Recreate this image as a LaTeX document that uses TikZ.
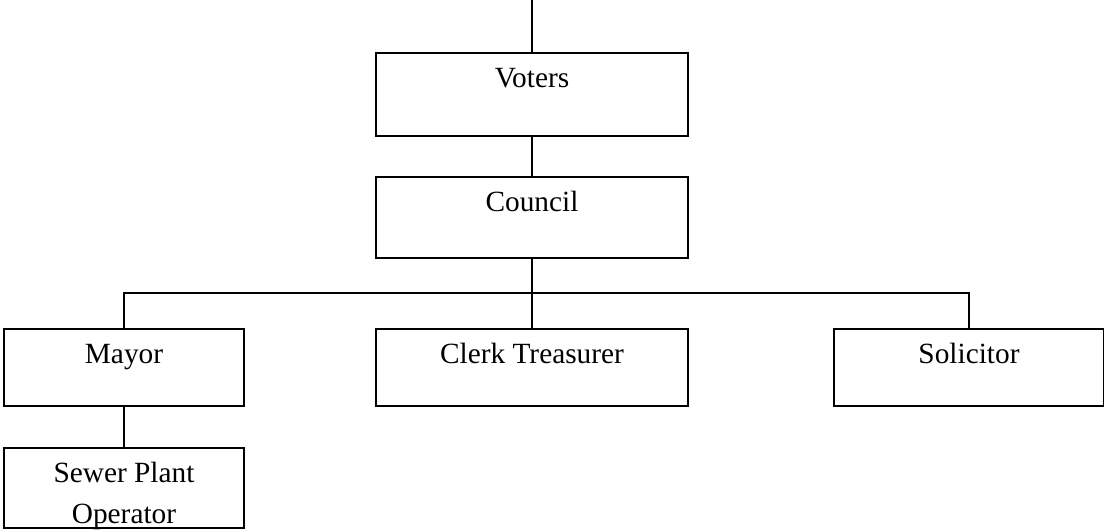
\documentclass[tikz,border=0pt]{standalone}
\usepackage{fontspec}
\setmainfont{Liberation Serif}
\begin{document}
\begin{tikzpicture}[x=0.75pt,y=-0.75pt,
  box/.style={draw, line width=1.5pt, inner sep=0pt, anchor=north west},
  lbl/.style={font=\fontsize{22}{30.75}\selectfont, anchor=base, align=center, inner sep=0pt, yshift=-26.25pt},
  conn/.style={line width=1.5pt}]
\useasboundingbox (0,0) rectangle (1104,529);
\node[box, minimum width=234pt, minimum height=62.25pt, label={[lbl]north:Voters}] (voters) at (375,52) {};
\node[box, minimum width=234pt, minimum height=60.75pt, label={[lbl]north:Council}] (council) at (375,176) {};
\node[box, minimum width=180pt, minimum height=57.75pt, label={[lbl]north:Mayor}] (mayor) at (3,328) {};
\node[box, minimum width=234pt, minimum height=57.75pt, label={[lbl]north:Clerk Treasurer}] (clerk) at (375,328) {};
\node[box, minimum width=202.5pt, minimum height=57.75pt, label={[lbl]north:Solicitor}] (solicitor) at (833,328) {};
\node[box, minimum width=180pt, minimum height=60pt, label={[lbl, yshift=-30.75pt]north:Sewer Plant\\Operator}] (sewer) at (3,447) {};
\coordinate (top) at (531,0);
\coordinate (bus) at (531,293);
\draw[conn] (voters.north |- top) -- (voters.north);
\draw[conn] (voters.south) -- (council.north);
\draw[conn] (council.south) -- (clerk.north);
\draw[conn] (mayor.north) -- (mayor.north |- bus) -- (solicitor.north |- bus) -- (solicitor.north);
\draw[conn] (mayor.south) -- (sewer.north);
\end{tikzpicture}
\end{document}
